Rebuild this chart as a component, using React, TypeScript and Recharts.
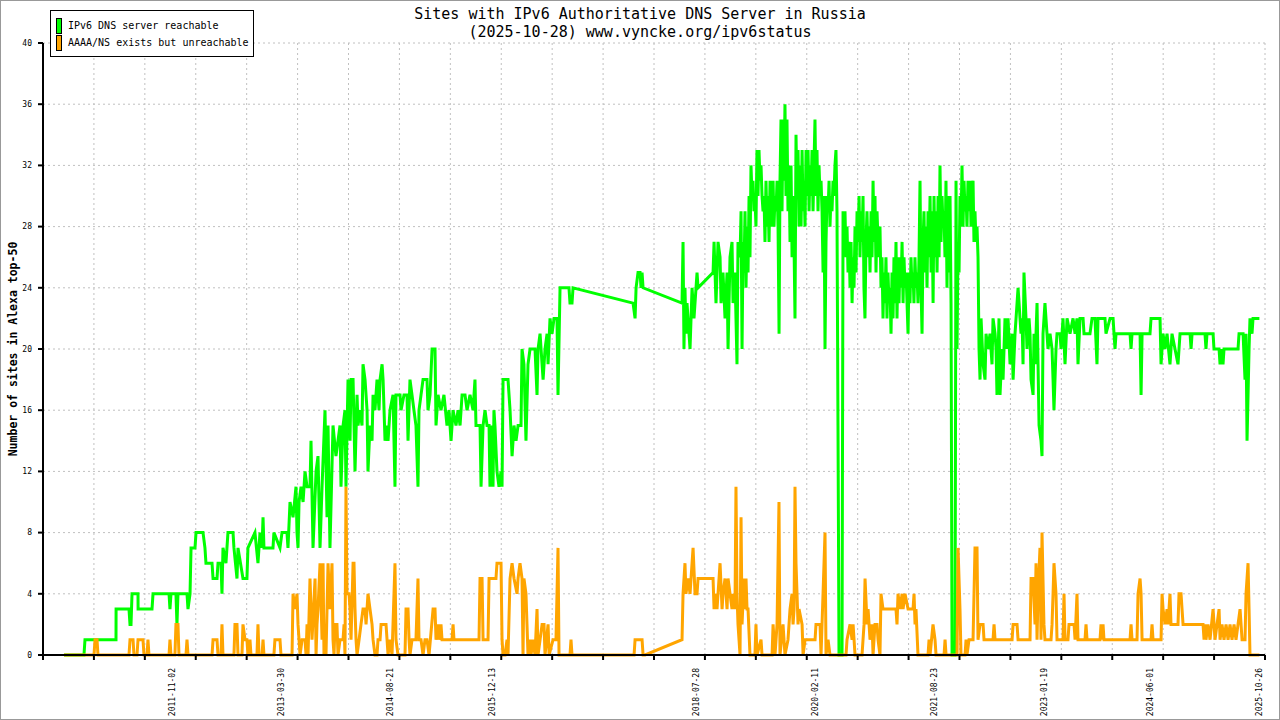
import React from 'react';
import { LineChart, Line, XAxis, YAxis, CartesianGrid, Legend } from 'recharts';

// decimal year, value  (sites with a reachable IPv6 DNS server)
const REACHABLE: [number, number][] = [
  [2010.447, 0], [2010.704, 0], [2010.717, 1], [2011.116, 1], [2011.117, 3], [2011.283, 3], [2011.296, 2], [2011.309, 2],
  [2011.322, 4], [2011.399, 4], [2011.4, 3], [2011.579, 3], [2011.592, 4], [2011.798, 4], [2011.81, 3], [2011.823, 4],
  [2011.887, 4], [2011.9, 2], [2011.913, 4], [2012.029, 4], [2012.042, 3], [2012.068, 4], [2012.081, 7], [2012.132, 7],
  [2012.145, 8], [2012.235, 8], [2012.26, 7], [2012.273, 6], [2012.351, 6], [2012.364, 5], [2012.415, 5], [2012.428, 6],
  [2012.466, 6], [2012.479, 4], [2012.492, 7], [2012.53, 6], [2012.556, 8], [2012.621, 8], [2012.633, 7], [2012.672, 5],
  [2012.685, 7], [2012.749, 5], [2012.8, 5], [2012.813, 7], [2012.903, 8], [2012.942, 6], [2012.968, 8], [2012.994, 7],
  [2013.007, 9], [2013.019, 7], [2013.135, 7], [2013.147, 8], [2013.225, 7], [2013.251, 8], [2013.315, 8], [2013.328, 7],
  [2013.354, 10], [2013.393, 9], [2013.431, 11], [2013.444, 8], [2013.457, 7], [2013.47, 10], [2013.496, 11], [2013.522, 10],
  [2013.547, 12], [2013.573, 11], [2013.611, 11], [2013.624, 14], [2013.65, 7], [2013.689, 12], [2013.714, 13], [2013.74, 7],
  [2013.766, 11], [2013.804, 16], [2013.83, 9], [2013.843, 15], [2013.868, 7], [2013.907, 15], [2013.945, 13], [2013.997, 15],
  [2014.01, 11], [2014.036, 15], [2014.061, 16], [2014.074, 11], [2014.1, 18], [2014.126, 14], [2014.139, 18], [2014.165, 18],
  [2014.19, 12], [2014.216, 17], [2014.229, 15], [2014.254, 16], [2014.28, 15], [2014.293, 19], [2014.319, 18], [2014.345, 16],
  [2014.357, 12], [2014.383, 15], [2014.409, 14], [2014.422, 17], [2014.447, 16], [2014.473, 18], [2014.499, 16], [2014.512, 18],
  [2014.538, 19], [2014.551, 18], [2014.576, 14], [2014.602, 15], [2014.615, 14], [2014.64, 16], [2014.679, 17], [2014.704, 11],
  [2014.717, 17], [2014.769, 17], [2014.782, 16], [2014.82, 17], [2014.859, 17], [2014.872, 14], [2014.897, 18], [2014.923, 17],
  [2014.948, 16], [2014.974, 15], [2015.0, 11], [2015.013, 16], [2015.039, 17], [2015.065, 18], [2015.116, 18], [2015.129, 16],
  [2015.155, 17], [2015.181, 20], [2015.219, 20], [2015.232, 15], [2015.258, 17], [2015.296, 16], [2015.334, 17], [2015.373, 15],
  [2015.399, 16], [2015.425, 14], [2015.451, 16], [2015.489, 15], [2015.515, 16], [2015.541, 15], [2015.567, 17], [2015.605, 17],
  [2015.631, 16], [2015.669, 17], [2015.708, 16], [2015.733, 18], [2015.746, 15], [2015.798, 15], [2015.811, 11], [2015.837, 15],
  [2015.862, 16], [2015.888, 15], [2015.914, 15], [2015.926, 11], [2015.939, 15], [2015.965, 11], [2015.977, 16], [2015.99, 15],
  [2016.016, 12], [2016.042, 11], [2016.068, 12], [2016.081, 11], [2016.094, 18], [2016.158, 18], [2016.184, 16], [2016.21, 13],
  [2016.235, 15], [2016.261, 14], [2016.287, 15], [2016.325, 15], [2016.338, 20], [2016.363, 19], [2016.389, 14], [2016.415, 19],
  [2016.441, 20], [2016.505, 20], [2016.531, 17], [2016.544, 20], [2016.57, 21], [2016.596, 19], [2016.609, 18], [2016.634, 20],
  [2016.66, 21], [2016.673, 19], [2016.698, 22], [2016.724, 21], [2016.75, 22], [2016.788, 22], [2016.801, 17], [2016.827, 24],
  [2016.942, 24], [2016.955, 23], [2016.981, 23], [2016.994, 24], [2017.766, 23], [2017.792, 22], [2017.805, 24], [2017.83, 25],
  [2017.856, 25], [2017.869, 24], [2017.882, 25], [2017.895, 24], [2018.396, 23], [2018.409, 27], [2018.421, 20], [2018.434, 24],
  [2018.447, 21], [2018.46, 23], [2018.473, 22], [2018.499, 20], [2018.525, 24], [2018.55, 22], [2018.589, 25], [2018.602, 24],
  [2018.795, 25], [2018.808, 27], [2018.833, 23], [2018.859, 27], [2018.885, 26], [2018.898, 23], [2018.923, 25], [2018.949, 22],
  [2018.975, 25], [2018.988, 20], [2019.013, 26], [2019.039, 27], [2019.052, 23], [2019.077, 25], [2019.103, 19], [2019.116, 27],
  [2019.142, 26], [2019.155, 29], [2019.168, 20], [2019.181, 27], [2019.193, 25], [2019.206, 29], [2019.219, 24], [2019.232, 28],
  [2019.245, 25], [2019.258, 30], [2019.27, 26], [2019.283, 32], [2019.296, 30], [2019.309, 31], [2019.321, 29], [2019.334, 30],
  [2019.347, 28], [2019.36, 33], [2019.373, 30], [2019.386, 33], [2019.399, 31], [2019.412, 32], [2019.425, 30], [2019.438, 29],
  [2019.45, 30], [2019.463, 27], [2019.476, 31], [2019.489, 28], [2019.502, 30], [2019.515, 27], [2019.528, 31], [2019.541, 29],
  [2019.554, 28], [2019.567, 31], [2019.579, 28], [2019.592, 30], [2019.605, 29], [2019.618, 31], [2019.631, 28], [2019.644, 21],
  [2019.656, 31], [2019.669, 35], [2019.682, 29], [2019.695, 35], [2019.707, 31], [2019.72, 36], [2019.733, 30], [2019.746, 35],
  [2019.759, 29], [2019.772, 32], [2019.785, 27], [2019.798, 32], [2019.811, 26], [2019.824, 30], [2019.836, 27], [2019.849, 22],
  [2019.862, 34], [2019.875, 30], [2019.888, 33], [2019.901, 28], [2019.914, 32], [2019.927, 28], [2019.94, 33], [2019.953, 29],
  [2019.965, 31], [2019.978, 28], [2019.991, 33], [2020.004, 30], [2020.017, 33], [2020.03, 29], [2020.042, 32], [2020.055, 30],
  [2020.068, 33], [2020.081, 29], [2020.093, 32], [2020.106, 35], [2020.119, 30], [2020.132, 33], [2020.145, 29], [2020.158, 32],
  [2020.171, 30], [2020.184, 31], [2020.197, 29], [2020.21, 25], [2020.222, 30], [2020.235, 20], [2020.248, 27], [2020.261, 30],
  [2020.274, 29], [2020.287, 31], [2020.299, 28], [2020.312, 30], [2020.325, 29], [2020.338, 31], [2020.35, 30], [2020.363, 32],
  [2020.376, 33], [2020.389, 29], [2020.402, 15], [2020.415, 0], [2020.454, 0], [2020.467, 29], [2020.479, 27], [2020.492, 29],
  [2020.505, 26], [2020.518, 28], [2020.531, 25], [2020.544, 27], [2020.557, 24], [2020.57, 27], [2020.583, 23], [2020.596, 26],
  [2020.608, 24], [2020.621, 28], [2020.634, 25], [2020.647, 29], [2020.66, 27], [2020.673, 30], [2020.685, 26], [2020.698, 29],
  [2020.711, 27], [2020.724, 30], [2020.736, 24], [2020.749, 22], [2020.762, 27], [2020.775, 29], [2020.788, 26], [2020.801, 28],
  [2020.814, 25], [2020.827, 29], [2020.84, 26], [2020.853, 31], [2020.865, 27], [2020.878, 30], [2020.891, 25], [2020.904, 29],
  [2020.917, 27], [2020.93, 26], [2020.942, 28], [2020.955, 24], [2020.968, 26], [2020.981, 22], [2020.993, 25], [2021.006, 23],
  [2021.019, 26], [2021.032, 22], [2021.045, 25], [2021.058, 23], [2021.071, 24], [2021.084, 21], [2021.097, 25], [2021.11, 22],
  [2021.122, 26], [2021.135, 23], [2021.148, 27], [2021.161, 22], [2021.174, 26], [2021.187, 23], [2021.2, 26], [2021.213, 24],
  [2021.226, 27], [2021.239, 23], [2021.251, 26], [2021.264, 24], [2021.277, 25], [2021.29, 23], [2021.303, 21], [2021.316, 25],
  [2021.328, 23], [2021.341, 26], [2021.354, 24], [2021.367, 25], [2021.379, 23], [2021.392, 26], [2021.405, 24], [2021.418, 25],
  [2021.431, 23], [2021.444, 26], [2021.457, 31], [2021.47, 24], [2021.483, 21], [2021.496, 27], [2021.508, 29], [2021.521, 25],
  [2021.534, 28], [2021.547, 24], [2021.56, 29], [2021.573, 26], [2021.586, 30], [2021.599, 25], [2021.612, 29], [2021.625, 23],
  [2021.637, 30], [2021.65, 26], [2021.663, 29], [2021.676, 25], [2021.689, 30], [2021.702, 26], [2021.714, 32], [2021.727, 27],
  [2021.74, 30], [2021.753, 28], [2021.765, 29], [2021.778, 26], [2021.791, 31], [2021.804, 24], [2021.817, 30], [2021.83, 25],
  [2021.843, 30], [2021.856, 23], [2021.869, 0], [2021.907, 0], [2021.92, 31], [2021.933, 20], [2021.946, 27], [2021.959, 25],
  [2021.971, 30], [2021.984, 28], [2021.997, 32], [2022.01, 28], [2022.023, 31], [2022.036, 29], [2022.049, 30], [2022.061, 28],
  [2022.074, 31], [2022.087, 29], [2022.1, 31], [2022.113, 28], [2022.126, 30], [2022.139, 31], [2022.151, 27], [2022.164, 29],
  [2022.177, 27], [2022.19, 28], [2022.203, 26], [2022.216, 20],
  [2022.229, 18], [2022.242, 22], [2022.268, 19], [2022.293, 18], [2022.306, 21],
  [2022.332, 20], [2022.357, 21], [2022.383, 19], [2022.396, 22], [2022.422, 21], [2022.435, 20], [2022.447, 17], [2022.473, 22],
  [2022.486, 17], [2022.512, 20], [2022.525, 18], [2022.55, 22], [2022.576, 20], [2022.589, 22], [2022.615, 19], [2022.641, 21],
  [2022.654, 18], [2022.679, 21], [2022.705, 23], [2022.718, 24], [2022.731, 23], [2022.743, 22], [2022.756, 21], [2022.769, 22],
  [2022.782, 19], [2022.794, 25], [2022.82, 22], [2022.833, 20], [2022.859, 22], [2022.872, 21], [2022.885, 18], [2022.911, 17],
  [2022.923, 21], [2022.936, 19], [2022.962, 23], [2022.975, 19], [2022.988, 15], [2023.013, 14], [2023.026, 13], [2023.039, 21],
  [2023.064, 23], [2023.09, 21], [2023.103, 20], [2023.129, 21], [2023.155, 20], [2023.168, 18], [2023.18, 16], [2023.206, 20],
  [2023.219, 21], [2023.258, 21], [2023.271, 20], [2023.296, 22], [2023.322, 19], [2023.348, 22], [2023.386, 21], [2023.425, 22],
  [2023.451, 21], [2023.476, 22], [2023.489, 19], [2023.515, 22], [2023.554, 22], [2023.566, 21], [2023.643, 21], [2023.669, 22],
  [2023.707, 22], [2023.733, 19], [2023.746, 22], [2023.836, 22], [2023.849, 21], [2023.901, 22], [2023.94, 22], [2023.952, 21],
  [2023.965, 20], [2023.978, 21], [2024.158, 21], [2024.171, 20], [2024.184, 21], [2024.287, 21], [2024.3, 17], [2024.313, 21],
  [2024.415, 21], [2024.428, 22], [2024.544, 22], [2024.557, 19], [2024.583, 21], [2024.608, 20], [2024.634, 21], [2024.672, 19],
  [2024.698, 21], [2024.775, 19], [2024.801, 21], [2024.93, 21], [2024.943, 20], [2024.956, 21], [2025.122, 21], [2025.135, 20],
  [2025.148, 21], [2025.226, 21], [2025.238, 20], [2025.303, 20], [2025.316, 19], [2025.329, 20], [2025.354, 19], [2025.367, 20],
  [2025.547, 20], [2025.56, 21], [2025.612, 21], [2025.637, 18], [2025.65, 21], [2025.663, 14], [2025.689, 20], [2025.701, 22],
  [2025.727, 21], [2025.74, 22], [2025.822, 22],
];

// decimal year, value  (AAAA/NS record exists but server unreachable)
const UNREACHABLE: [number, number][] = [
  [2010.447, 0], [2010.833, 0], [2010.846, 1], [2010.872, 1], [2010.884, 0], [2011.283, 0], [2011.296, 1], [2011.335, 1],
  [2011.347, 0], [2011.386, 0], [2011.399, 1], [2011.463, 1], [2011.476, 0], [2011.515, 0], [2011.527, 1], [2011.54, 0],
  [2011.798, 0], [2011.81, 1], [2011.823, 0], [2011.874, 0], [2011.887, 2], [2011.913, 2], [2011.926, 0], [2012.016, 0],
  [2012.029, 1], [2012.042, 0], [2012.351, 0], [2012.364, 1], [2012.415, 1], [2012.428, 0], [2012.466, 0], [2012.479, 2],
  [2012.492, 0], [2012.633, 0], [2012.646, 2], [2012.672, 2], [2012.685, 0], [2012.736, 0], [2012.749, 2], [2012.775, 1],
  [2012.8, 1], [2012.813, 0], [2012.826, 0], [2012.839, 1], [2012.852, 0], [2012.929, 0], [2012.942, 2], [2012.955, 0],
  [2012.994, 0], [2013.007, 1], [2013.019, 0], [2013.147, 0], [2013.16, 1], [2013.225, 1], [2013.238, 0], [2013.38, 0],
  [2013.393, 4], [2013.418, 3], [2013.444, 4], [2013.457, 2], [2013.483, 0], [2013.509, 1], [2013.547, 1], [2013.56, 0],
  [2013.573, 2], [2013.586, 0], [2013.611, 5], [2013.637, 1], [2013.676, 5], [2013.689, 0], [2013.701, 2], [2013.714, 3],
  [2013.74, 6], [2013.766, 1], [2013.779, 6], [2013.791, 0], [2013.804, 2], [2013.817, 0], [2013.843, 6], [2013.868, 3],
  [2013.894, 6], [2013.907, 1], [2013.92, 0], [2013.933, 2], [2013.958, 2], [2013.971, 0], [2013.997, 1], [2014.036, 1],
  [2014.049, 2], [2014.061, 0], [2014.074, 11], [2014.087, 4], [2014.113, 4], [2014.126, 3], [2014.139, 1], [2014.165, 6],
  [2014.177, 6], [2014.19, 3], [2014.203, 1], [2014.216, 0], [2014.242, 1], [2014.267, 2], [2014.293, 3], [2014.319, 3],
  [2014.332, 2], [2014.357, 4], [2014.383, 3], [2014.409, 2], [2014.422, 1], [2014.447, 0], [2014.473, 0], [2014.486, 1],
  [2014.512, 1], [2014.525, 2], [2014.589, 2], [2014.602, 1], [2014.615, 0], [2014.64, 1], [2014.666, 0], [2014.704, 6],
  [2014.717, 1], [2014.743, 0], [2014.833, 0], [2014.846, 3], [2014.872, 3], [2014.885, 1], [2014.897, 0], [2014.923, 1],
  [2014.974, 1], [2015.0, 5], [2015.013, 1], [2015.039, 1], [2015.065, 0], [2015.09, 1], [2015.116, 1], [2015.142, 0],
  [2015.194, 3], [2015.219, 3], [2015.232, 1], [2015.258, 2], [2015.271, 1], [2015.296, 2], [2015.309, 1], [2015.438, 1],
  [2015.451, 2], [2015.463, 1], [2015.785, 1], [2015.798, 5], [2015.824, 5], [2015.837, 1], [2015.901, 1], [2015.914, 5],
  [2016.003, 5], [2016.016, 6], [2016.068, 6], [2016.081, 1], [2016.094, 0], [2016.12, 0], [2016.145, 1], [2016.158, 0],
  [2016.184, 5], [2016.21, 6], [2016.235, 5], [2016.274, 4], [2016.287, 5], [2016.312, 6], [2016.338, 5], [2016.351, 0],
  [2016.363, 5], [2016.389, 4], [2016.402, 2], [2016.415, 0], [2016.441, 1], [2016.454, 0], [2016.479, 1], [2016.505, 0],
  [2016.531, 3], [2016.544, 0], [2016.57, 1], [2016.596, 2], [2016.621, 2], [2016.634, 0], [2016.673, 2], [2016.686, 0],
  [2016.737, 1], [2016.775, 1], [2016.801, 7], [2016.814, 0], [2016.955, 0], [2016.968, 1], [2016.981, 0], [2017.779, 0],
  [2017.792, 1], [2017.882, 1], [2017.895, 0], [2017.92, 0], [2018.396, 1], [2018.409, 4], [2018.434, 6], [2018.447, 4],
  [2018.473, 5], [2018.499, 4], [2018.525, 6], [2018.538, 7], [2018.563, 4], [2018.589, 4], [2018.602, 5], [2018.795, 5],
  [2018.808, 3], [2018.82, 4], [2018.846, 3], [2018.885, 6], [2018.911, 3], [2018.923, 4], [2018.949, 5], [2018.975, 3],
  [2018.988, 5], [2019.013, 4], [2019.039, 3], [2019.052, 4], [2019.077, 3], [2019.09, 11], [2019.103, 4], [2019.116, 2],
  [2019.129, 1], [2019.142, 0], [2019.155, 9], [2019.168, 2], [2019.193, 5], [2019.206, 3], [2019.219, 5], [2019.232, 3],
  [2019.245, 3], [2019.27, 0], [2019.334, 0], [2019.347, 2], [2019.36, 0], [2019.412, 1], [2019.425, 0], [2019.554, 0],
  [2019.567, 2], [2019.579, 1], [2019.592, 0], [2019.618, 2], [2019.643, 10], [2019.656, 0], [2019.695, 2], [2019.72, 0],
  [2019.759, 1], [2019.785, 3], [2019.811, 4], [2019.824, 2], [2019.837, 3], [2019.849, 11], [2019.862, 6], [2019.888, 2],
  [2019.901, 3], [2019.94, 2], [2019.953, 0], [2019.978, 1], [2020.107, 1], [2020.119, 2], [2020.171, 2], [2020.184, 0],
  [2020.235, 8], [2020.248, 0], [2020.274, 1], [2020.299, 0], [2020.505, 0], [2020.518, 1], [2020.557, 2], [2020.583, 1],
  [2020.596, 2], [2020.621, 0], [2020.711, 0], [2020.724, 1], [2020.737, 2], [2020.75, 5], [2020.776, 2], [2020.789, 3],
  [2020.814, 1], [2020.84, 2], [2020.853, 0], [2020.878, 2], [2020.904, 2], [2020.917, 1], [2020.942, 0], [2020.955, 4],
  [2020.981, 3], [2021.148, 3], [2021.161, 2], [2021.174, 4], [2021.2, 3], [2021.226, 4], [2021.239, 3], [2021.264, 4],
  [2021.303, 3], [2021.367, 3], [2021.38, 4], [2021.393, 2], [2021.405, 3], [2021.431, 0], [2021.56, 0], [2021.573, 1],
  [2021.586, 0], [2021.624, 2], [2021.65, 1], [2021.663, 0], [2021.766, 0], [2021.779, 1], [2021.792, 0], [2021.933, 0],
  [2021.946, 7], [2021.971, 3], [2021.984, 0], [2022.036, 0], [2022.049, 1], [2022.061, 0], [2022.087, 1], [2022.139, 1],
  [2022.164, 7], [2022.19, 7], [2022.203, 1], [2022.229, 2], [2022.268, 2], [2022.28, 1], [2022.396, 1], [2022.409, 2],
  [2022.422, 1], [2022.641, 1], [2022.654, 2], [2022.705, 2], [2022.718, 1], [2022.872, 1], [2022.885, 5], [2022.911, 5],
  [2022.936, 2], [2022.949, 6], [2022.962, 1], [2022.975, 4], [2023.0, 7], [2023.013, 1], [2023.026, 8], [2023.051, 2],
  [2023.064, 1], [2023.142, 1], [2023.155, 2], [2023.168, 4], [2023.18, 6], [2023.206, 4], [2023.219, 1], [2023.296, 1],
  [2023.309, 4], [2023.322, 1], [2023.36, 1], [2023.373, 2], [2023.438, 2], [2023.451, 1], [2023.476, 4], [2023.489, 1],
  [2023.579, 1], [2023.592, 2], [2023.605, 1], [2023.772, 1], [2023.785, 2], [2023.798, 1], [2023.811, 2], [2023.823, 1],
  [2024.158, 1], [2024.171, 2], [2024.184, 1], [2024.248, 1], [2024.261, 4], [2024.287, 5], [2024.3, 4], [2024.313, 1],
  [2024.428, 1], [2024.441, 2], [2024.454, 1], [2024.557, 1], [2024.57, 4], [2024.583, 3], [2024.608, 2], [2024.634, 3],
  [2024.647, 2], [2024.672, 4], [2024.685, 2], [2024.775, 2], [2024.788, 4], [2024.814, 4], [2024.827, 3], [2024.84, 2],
  [2025.097, 2], [2025.11, 1], [2025.122, 2], [2025.135, 1], [2025.161, 2], [2025.187, 1], [2025.226, 3], [2025.251, 1],
  [2025.277, 2], [2025.303, 3], [2025.316, 1], [2025.341, 2], [2025.367, 1], [2025.393, 2], [2025.419, 1], [2025.444, 2],
  [2025.47, 1], [2025.496, 2], [2025.521, 1], [2025.547, 2], [2025.573, 3], [2025.599, 1], [2025.637, 1], [2025.65, 4],
  [2025.676, 6], [2025.689, 3], [2025.701, 0], [2025.822, 0],
];

const DATE_LABELS = [
  '2011-11-02', '2013-03-30', '2014-08-21', '2015-12-13', '2018-07-28',
  '2020-02-11', '2021-08-23', '2023-01-19', '2024-06-01', '2025-10-26',
];
const Y_TICKS = [0, 4, 8, 12, 16, 20, 24, 28, 32, 36, 40];

const X_MIN = 2010.177;
const X_MAX = 2025.894;
const GREEN = '#00ff00';
const ORANGE = '#ffa500';
const MONO = '"DejaVu Sans Mono", "Liberation Mono", monospace';

function toYear(d: string) {
  const [y, m, day] = d.split('-').map(Number);
  const start = Date.UTC(y, 0, 1);
  const end = Date.UTC(y + 1, 0, 1);
  return y + (Date.UTC(y, m - 1, day) - start) / (end - start);
}

const reachable = REACHABLE.map(([t, v]) => ({ t, v }));
const unreachable = UNREACHABLE.map(([t, v]) => ({ t, v }));
const gridTicks = Array.from({ length: 25 }, (_, i) => X_MIN + (i * (X_MAX - X_MIN)) / 24);
const labelTicks = DATE_LABELS.map(toYear);
const labelFor = new Map(labelTicks.map((t, i) => [t, DATE_LABELS[i]]));

function NoTick() {
  return <g />;
}

function DateTick({ x, y, payload }: any) {
  const label = labelFor.get(payload.value) ?? '';
  const top = y + 8;
  return (
    <text
      x={x}
      y={top}
      transform={`rotate(-90 ${x} ${top})`}
      textAnchor="end"
      dy={3}
      fontFamily={MONO}
      fontSize={8}
      fill="#000"
    >
      {label}
    </text>
  );
}

function LegendBox() {
  const row = (color: string, text: string) => (
    <div style={{ display: 'flex', alignItems: 'center', height: 17 }}>
      <span
        style={{
          display: 'inline-block', width: 4, height: 14, background: color,
          border: '1px solid #000', marginRight: 6,
        }}
      />
      <span>{text}</span>
    </div>
  );
  return (
    <div
      style={{
        border: '1px solid #000', background: '#fff', width: 204, height: 47,
        padding: '6px 0 0 5px', boxSizing: 'border-box', fontFamily: MONO, fontSize: 10,
        color: '#000', lineHeight: '17px',
      }}
    >
      {row(GREEN, 'IPv6 DNS server reachable')}
      {row(ORANGE, 'AAAA/NS exists but unreachable')}
    </div>
  );
}

export default function App() {
  return (
    <div style={{ position: 'absolute', left: 0, top: 0, width: 1280, height: 720, background: '#fff' }}>
      <div
        style={{
          position: 'absolute', left: 0, top: 5, width: 1280, textAlign: 'center',
          fontFamily: MONO, fontSize: 15, lineHeight: '18px', color: '#000',
        }}
      >
        <div>Sites with IPv6 Authoritative DNS Server in Russia</div>
        <div>(2025-10-28) www.vyncke.org/ipv6status</div>
      </div>
      <LineChart
        width={1280}
        height={720}
        margin={{ top: 43, right: 15, bottom: 0, left: 0 }}
        style={{ position: 'absolute', left: 0, top: 0 }}
      >
        <CartesianGrid xAxisId="grid" yAxisId="left" stroke="#c0c0c0" strokeDasharray="2 3" />
        <XAxis
          xAxisId="grid"
          dataKey="t"
          type="number"
          domain={[X_MIN, X_MAX]}
          allowDataOverflow
          ticks={gridTicks}
          interval={0}
          tick={<NoTick />}
          tickSize={5}
          height={5}
          stroke="#000"
          strokeWidth={2}
        />
        <XAxis
          xAxisId="labels"
          dataKey="t"
          type="number"
          domain={[X_MIN, X_MAX]}
          allowDataOverflow
          ticks={labelTicks}
          interval={0}
          tick={<DateTick />}
          tickLine={false}
          axisLine={false}
          tickSize={0}
          tickMargin={0}
          height={60}
        />
        <YAxis
          yAxisId="left"
          type="number"
          domain={[0, 40]}
          ticks={Y_TICKS}
          interval={0}
          width={43}
          tickSize={5}
          tickMargin={6}
          stroke="#000"
          strokeWidth={2}
          tick={{ fontFamily: MONO, fontSize: 8, fill: '#000' }}
          label={{
            content: ({ viewBox }: any) => {
              const cx = viewBox.x + 13;
              const cy = viewBox.y + viewBox.height / 2;
              return (
                <text
                  x={cx}
                  y={cy}
                  transform={`rotate(-90 ${cx} ${cy})`}
                  textAnchor="middle"
                  dominantBaseline="central"
                  fontFamily={MONO}
                  fontSize={11.5}
                  fontWeight="bold"
                  fill="#000"
                >
                  Number of sites in Alexa top-50
                </text>
              );
            },
          }}
        />
        <YAxis yAxisId="right" orientation="right" domain={[0, 40]} width={0} tick={false} tickLine={false} stroke="#000" />
        <Legend
          verticalAlign="middle"
          layout="horizontal"
          content={() => <LegendBox />}
          wrapperStyle={{ left: 50, top: 10, width: 'auto', height: 'auto' }}
        />
        <Line
          xAxisId="grid"
          yAxisId="left"
          data={reachable}
          dataKey="v"
          name="IPv6 DNS server reachable"
          stroke={GREEN}
          strokeWidth={3}
          dot={false}
          type="linear"
          isAnimationActive={false}
        />
        <Line
          xAxisId="grid"
          yAxisId="left"
          data={unreachable}
          dataKey="v"
          name="AAAA/NS exists but unreachable"
          stroke={ORANGE}
          strokeWidth={3}
          dot={false}
          type="linear"
          isAnimationActive={false}
        />
      </LineChart>
      <div
        style={{
          position: 'absolute', left: 0, top: 0, width: 1280, height: 720,
          boxSizing: 'border-box', border: '1px solid #999', pointerEvents: 'none',
        }}
      />
    </div>
  );
}
